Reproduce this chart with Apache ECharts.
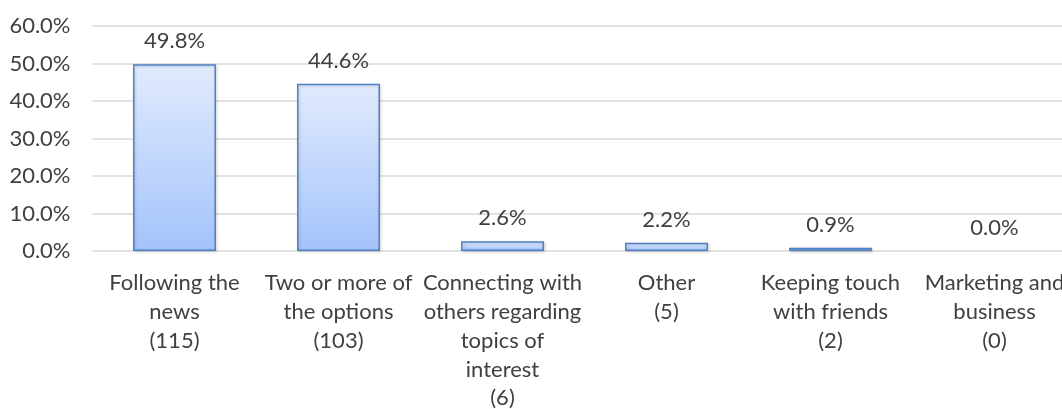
<!DOCTYPE html>
<html>
<head>
<meta charset="utf-8">
<script src="https://cdn.jsdelivr.net/npm/echarts@6/dist/echarts.min.js"></script>
<style>
  html, body { margin: 0; padding: 0; background: #ffffff; }
  #chart { width: 1062px; height: 409px; }
</style>
</head>
<body>
<div id="chart"></div>
<script>
// Survey answers: category names (wrapped), respondent counts and shares
const categories = [
  'Following the\nnews',
  'Two or more of\nthe options',
  'Connecting with\nothers regarding\ntopics of\ninterest',
  'Other',
  'Keeping touch\nwith friends',
  'Marketing and\nbusiness'
];
const counts = [115, 103, 6, 5, 2, 0];
const shares = [49.8, 44.6, 2.6, 2.2, 0.9, 0.0];
const yTicks = { min: 0, max: 60, interval: 10 };

const FONT = 'Lato, "Open Sans", sans-serif';
const TEXT = '#404040';

const chart = echarts.init(document.getElementById('chart'), null, { renderer: 'canvas' });

// an empty bar gets no outline, so a 0% answer shows only its label
const barData = shares.map(v => v === 0
  ? { value: v, itemStyle: { borderWidth: 0, shadowBlur: 0, shadowColor: 'transparent' } }
  : v);

chart.setOption({
  animation: false,
  backgroundColor: '#ffffff',
  grid: {
    left: 92.5, top: 26, width: 984, height: 225,
    containLabel: false,
    outerBoundsMode: 'none'
  },
  xAxis: {
    type: 'category',
    data: categories.map((c, i) => c + '\n(' + counts[i] + ')'),
    axisLine: { show: false },
    axisTick: { show: false },
    axisLabel: {
      interval: 0,
      margin: 18,
      color: TEXT,
      fontFamily: FONT,
      fontSize: 22,
      lineHeight: 28.7,
      align: 'center'
    }
  },
  yAxis: {
    type: 'value',
    min: yTicks.min,
    max: yTicks.max,
    interval: yTicks.interval,
    axisLine: { show: false },
    axisTick: { show: false },
    splitLine: { lineStyle: { color: '#d9d9d9', width: 1.5 } },
    axisLabel: {
      margin: 22,
      color: TEXT,
      fontFamily: FONT,
      fontSize: 22,
      formatter: v => v.toFixed(1) + '%'
    }
  },
  series: [{
    type: 'bar',
    data: barData,
    barWidth: 83,
    itemStyle: {
      color: new echarts.graphic.LinearGradient(0, 0, 0, 1, [
        { offset: 0, color: '#e1ebfd' },
        { offset: 1, color: '#a4c3fb' }
      ]),
      borderColor: '#4f81c4',
      borderWidth: 1.5,
      shadowColor: 'rgba(0,0,0,0.18)',
      shadowBlur: 3,
      shadowOffsetX: 1,
      shadowOffsetY: 1
    },
    label: {
      show: true,
      position: 'top',
      distance: 12,
      color: TEXT,
      fontFamily: FONT,
      fontSize: 22,
      formatter: p => p.value.toFixed(1) + '%'
    }
  }]
});
</script>
</body>
</html>
